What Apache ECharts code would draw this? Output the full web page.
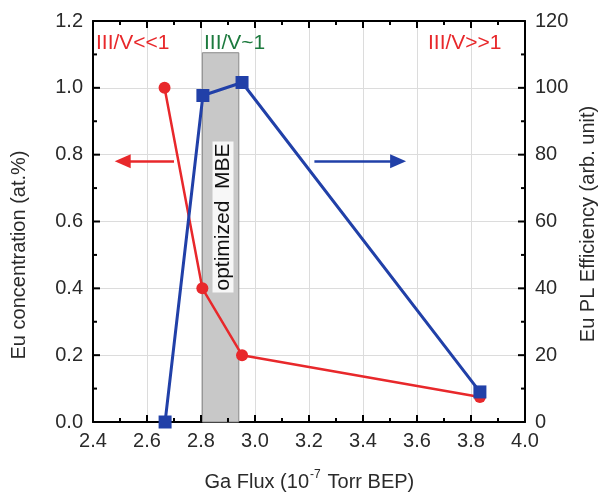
<!DOCTYPE html>
<html><head><meta charset="utf-8">
<script src="https://cdn.jsdelivr.net/npm/echarts@6/dist/echarts.min.js"></script>
<style>html,body{margin:0;padding:0;background:#fff}#c{width:599px;height:497px}</style>
</head><body><div id="c"></div>
<script>
const gaFlux = [2.665, 2.805, 2.952, 3.833];
const euConc = [1.0, 0.40, 0.20, 0.075];
const plFlux = [2.667, 2.807, 2.952, 3.833];
const plEff = [0, 97.7, 101.6, 9];
const shadeX = [2.805, 2.94];
const shadeTop = 1.105;
const redArrow = [[2.70, 0.78], [2.51, 0.78]];
const blueArrow = [[3.22, 78], [3.53, 78]];
const xTicks = ['2.4','2.6','2.8','3.0','3.2','3.4','3.6','3.8','4.0'];
const yTicks = ['0.0','0.2','0.4','0.6','0.8','1.0','1.2'];
const y2Ticks = ['0','20','40','60','80','100','120'];

const F = 'Liberation Sans, Arial, sans-serif';
const chart = echarts.init(document.getElementById('c'));
const frame = {show: true, onZero: false, lineStyle: {color: '#000', width: 2}};
chart.setOption({
  animation: false,
  grid: {left: 93, right: 74, top: 21, bottom: 75},
  xAxis: [
    {type: 'value', min: 2.4, max: 4.0, interval: 0.2, position: 'bottom', axisLine: frame, axisTick: {show: false},
      axisLabel: {color: '#2a2a2a', fontSize: 20, fontFamily: F, margin: 9,
        formatter: v => xTicks[Math.round((v - 2.4) / 0.2)]},
      splitLine: {show: true, lineStyle: {color: '#dcdcdc', width: 1}}},
    {type: 'value', min: 2.4, max: 4.0, interval: 0.2, position: 'top', axisLine: frame, axisTick: {show: false},
      axisLabel: {show: false}, splitLine: {show: false}}
  ],
  yAxis: [
    {type: 'value', min: 0, max: 1.2, interval: 0.2, position: 'left', axisLine: frame, axisTick: {show: false},
      axisLabel: {color: '#2a2a2a', fontSize: 20, fontFamily: F, margin: 10,
        formatter: v => yTicks[Math.round(v / 0.2)]},
      splitLine: {show: true, lineStyle: {color: '#dcdcdc', width: 1}}},
    {type: 'value', min: 0, max: 120, interval: 20, position: 'right', axisLine: frame, axisTick: {show: false},
      axisLabel: {color: '#2a2a2a', fontSize: 20, fontFamily: F, margin: 10,
        formatter: v => y2Ticks[Math.round(v / 20)]},
      splitLine: {show: false}}
  ],
  series: [
    {type: 'line', xAxisIndex: 0, yAxisIndex: 0, z: 1, data: [], silent: true,
      markArea: {silent: true, itemStyle: {color: '#c8c8c8', borderColor: '#8a8a8a', borderWidth: 1},
        data: [[{coord: [shadeX[0], 0]}, {coord: [shadeX[1], shadeTop]}]]}},
    {type: 'line', name: 'Eu', xAxisIndex: 0, yAxisIndex: 0, z: 3,
      data: gaFlux.map((x, i) => [x, euConc[i]]),
      lineStyle: {color: '#e8282b', width: 2.5}, itemStyle: {color: '#e8282b'},
      symbol: 'circle', symbolSize: 12,
      markLine: {silent: true, symbol: ['none', 'triangle'], symbolSize: [14, 16], label: {show: false},
        lineStyle: {color: '#e8282b', width: 2.5, type: 'solid'},
        data: [[{coord: redArrow[0]}, {coord: redArrow[1]}]]}},
    {type: 'line', name: 'PL', xAxisIndex: 0, yAxisIndex: 1, z: 4,
      data: plFlux.map((x, i) => [x, plEff[i]]),
      lineStyle: {color: '#2140a8', width: 3}, itemStyle: {color: '#2140a8'},
      symbol: 'rect', symbolSize: 13,
      markLine: {silent: true, symbol: ['none', 'triangle'], symbolSize: [14, 16], label: {show: false},
        lineStyle: {color: '#2140a8', width: 2.5, type: 'solid'},
        data: [[{coord: blueArrow[0]}, {coord: blueArrow[1]}]]}}
  ]
});

// tick marks drawn inside the frame, positioned through the chart's own axis scales
const toPx = (x, y) => chart.convertToPixel({xAxisIndex: 0, yAxisIndex: 0}, [x, y]);
const ticks = [];
const c0 = toPx(2.4, 0), c1 = toPx(4.0, 1.2);
const x0 = c0[0], y0 = c0[1], x1 = c1[0], y1 = c1[1];
const tk = (a, b, c, d) => ticks.push({type: 'line', z: 20, silent: true,
  shape: {x1: a, y1: b, x2: c, y2: d}, style: {stroke: '#000', lineWidth: 2}});
for (let i = 0; i <= 16; i++) {
  const px = toPx(2.4 + i * 0.1, 0)[0];
  const len = i % 2 === 0 ? 7 : 4;
  tk(px, y0, px, y0 - len); tk(px, y1, px, y1 + len);
}
for (let i = 0; i <= 12; i++) {
  const py = toPx(2.4, i * 0.1)[1];
  const len = i % 2 === 0 ? 7 : 4;
  tk(x0, py, x0 + len, py); tk(x1, py, x1 - len, py);
}

chart.setOption({graphic: ticks.concat([
  {type: 'text', left: 96, top: 33, style: {text: 'III/V<<1', fill: '#e8282b', font: '21px ' + F}},
  {type: 'text', left: 204, top: 33, style: {text: 'III/V~1', fill: '#1d7a3e', font: '21px ' + F}},
  {type: 'text', left: 428, top: 33, style: {text: 'III/V>>1', fill: '#e8282b', font: '21px ' + F}},
  {type: 'text', x: 223, y: 217, rotation: Math.PI / 2, z: 10,
    style: {text: 'optimized  MBE', fill: '#111', font: '21px ' + F, align: 'center', verticalAlign: 'middle',
      backgroundColor: 'rgba(255,255,255,0.85)', padding: [0, 2]}},
  {type: 'text', x: 309, y: 482, style: {text: 'Ga Flux (10', fill: '#2a2a2a', font: '20px ' + F, align: 'right', verticalAlign: 'middle'}},
  {type: 'text', x: 310, y: 475, style: {text: '-7', fill: '#2a2a2a', font: '12px ' + F, align: 'left', verticalAlign: 'middle'}},
  {type: 'text', x: 322, y: 482, style: {text: ' Torr BEP)', fill: '#2a2a2a', font: '20px ' + F, align: 'left', verticalAlign: 'middle'}},
  {type: 'text', x: 19, y: 255, rotation: Math.PI / 2, style: {text: 'Eu concentration (at.%)', fill: '#2a2a2a', font: '20px ' + F, align: 'center', verticalAlign: 'middle'}},
  {type: 'text', x: 588, y: 224, rotation: Math.PI / 2, style: {text: 'Eu PL Efficiency (arb. unit)', fill: '#2a2a2a', font: '20px ' + F, align: 'center', verticalAlign: 'middle'}}
])});
</script></body></html>
